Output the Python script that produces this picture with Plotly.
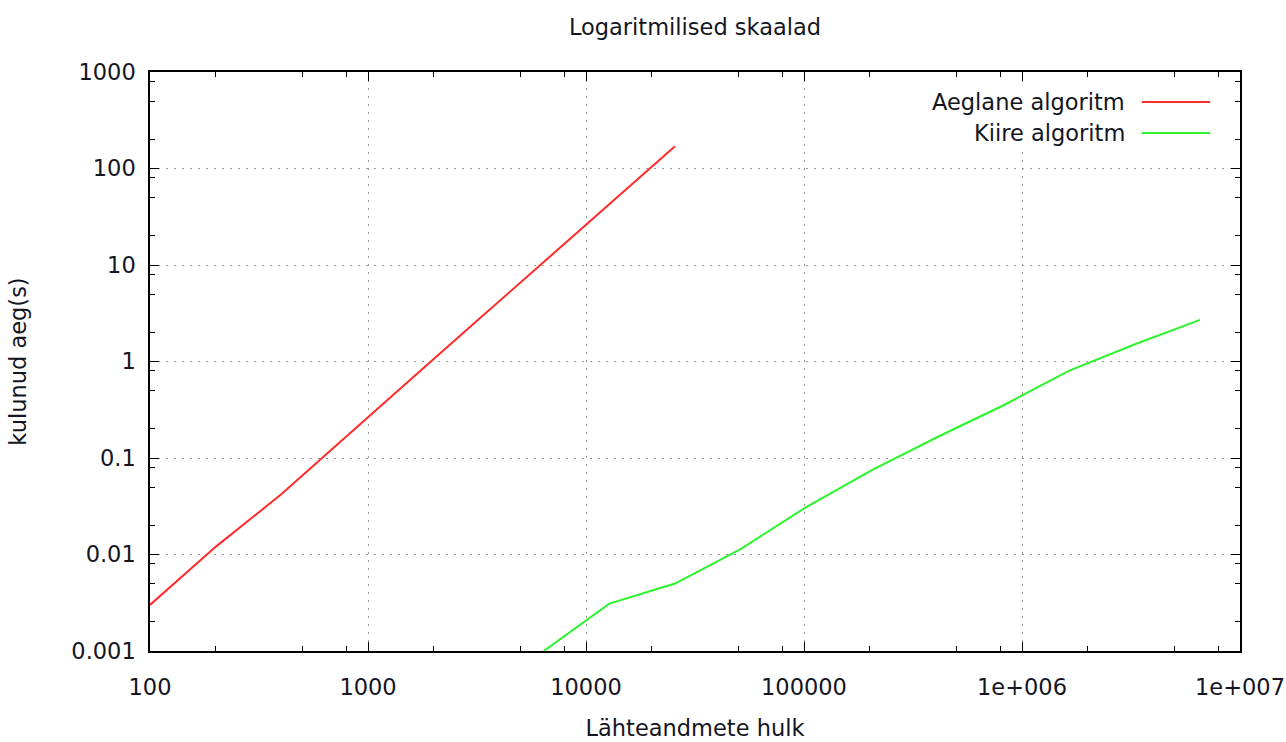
import plotly.graph_objects as go

# ---- data ----
slow_n = [100, 200, 400, 800, 1600, 3200, 6400, 12800, 25600]
slow_t = [0.003, 0.012, 0.042, 0.17, 0.68, 2.7, 10.8, 43, 170]

fast_n = [6400, 12800, 25600, 51200, 102400, 204800, 409600, 819200,
          1638400, 3276800, 6553600]
fast_t = [0.001, 0.0031, 0.005, 0.0114, 0.031, 0.075, 0.165, 0.35,
          0.8, 1.5, 2.7]

x_tickvals = [100, 1000, 10000, 100000, 1000000, 10000000]
x_ticktext = ["100", "1000", "10000", "100000", "1e+006", "1e+007"]
y_tickvals = [0.001, 0.01, 0.1, 1, 10, 100, 1000]
y_ticktext = ["0.001", "0.01", "0.1", "1", "10", "100", "1000"]

series_names = ["Aeglane algoritm", "Kiire algoritm"]
series_colors = ["#ff2a2a", "#2af52a"]

title_text = "Logaritmilised skaalad"
x_title = "Lähteandmete hulk"
y_title = "kulunud aeg(s)"

# minor ticks at 2,5,8 of each decade (as in the reference)
x_minor = [m * 10 ** e for e in range(2, 7) for m in (2, 5, 8)]
y_minor = [m * 10.0 ** e for e in range(-3, 3) for m in (2, 5, 8)]

FONT = "DejaVu Sans"
TXT = "#15151f"
FS = 22.5

fig = go.Figure()
fig.add_trace(go.Scatter(x=slow_n, y=slow_t, mode="lines", name=series_names[0],
                         line=dict(color=series_colors[0], width=2), showlegend=False))
fig.add_trace(go.Scatter(x=fast_n, y=fast_t, mode="lines", name=series_names[1],
                         line=dict(color=series_colors[1], width=2), showlegend=False))

axis_common = dict(
    showline=True, linecolor="#000000", linewidth=1.5, mirror="allticks",
    ticks="inside", ticklen=9, tickwidth=1.2, tickcolor="#000000",
    showgrid=True, gridcolor="#9a9a9a", gridwidth=1, griddash="2px,6px",
    zeroline=False, tickfont=dict(family=FONT, size=FS, color=TXT),
    automargin=False,
)

fig.update_xaxes(type="log", range=[2, 7], tickvals=x_tickvals, ticktext=x_ticktext,
                 ticklabelstandoff=15,
                 minor=dict(tickvals=x_minor, ticks="inside", ticklen=5,
                            tickcolor="#000000", tickwidth=1, showgrid=False),
                 title=dict(text=x_title, font=dict(family=FONT, size=FS, color=TXT),
                            standoff=21),
                 **axis_common)
fig.update_yaxes(type="log", range=[-3, 3], tickvals=y_tickvals, ticktext=y_ticktext,
                 ticklabelstandoff=8,
                 minor=dict(tickvals=y_minor, ticks="inside", ticklen=5,
                            tickcolor="#000000", tickwidth=1, showgrid=False),
                 title=dict(text=y_title, font=dict(family=FONT, size=FS, color=TXT),
                            standoff=38),
                 **axis_common)

# legend drawn gnuplot-style: text right-aligned, sample line to its right
shapes = [dict(type="rect", xref="paper", yref="paper", x0=0.700, x1=0.989,
               y0=0.866, y1=0.975, fillcolor="white", line=dict(width=0), layer="above")]
annotations = []
leg_y = [0.9482, 0.8946]
for name, col, yy in zip(series_names, series_colors, leg_y):
    annotations.append(dict(xref="paper", yref="paper", x=0.8963, y=yy, text=name,
                            showarrow=False, xanchor="right", yanchor="middle",
                            font=dict(family=FONT, size=FS, color=TXT)))
    shapes.append(dict(type="line", xref="paper", yref="paper", x0=0.9101, x1=0.9725,
                       y0=yy, y1=yy, line=dict(color=col, width=2), layer="above"))

fig.update_layout(
    width=1286, height=742,
    margin=dict(l=150, r=46, t=72, b=91, autoexpand=False),
    paper_bgcolor="white", plot_bgcolor="white",
    title=dict(text=title_text, x=0.5, xref="paper", xanchor="center",
               y=1 - 27 / 742, yref="container", yanchor="middle",
               font=dict(family=FONT, size=FS, color=TXT)),
    shapes=shapes, annotations=annotations,
    showlegend=False,
)

fig.write_html("out.html")
